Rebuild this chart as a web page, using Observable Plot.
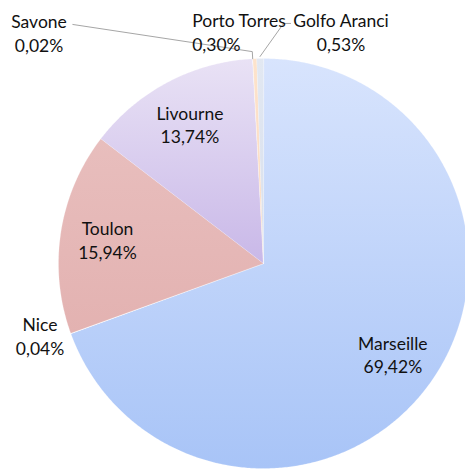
<!DOCTYPE html>
<html>
<head>
<meta charset="utf-8">
<script src="https://cdn.jsdelivr.net/npm/d3@7"></script>
<script src="https://cdn.jsdelivr.net/npm/@observablehq/plot@0.6"></script>
<style>
  html, body { margin: 0; padding: 0; background: #fff; }
  #chart { width: 465px; height: 471px; overflow: hidden; }
</style>
</head>
<body>
<div id="chart"></div>
<script>
// ---- data ----
const ports = ["Marseille", "Nice", "Toulon", "Livourne", "Savone", "Porto Torres", "Golfo Aranci"];
const shares = [69.42, 0.04, 15.94, 13.74, 0.02, 0.30, 0.53];
const colorsTop = ["#d8e4fd", "#ffffff", "#e8bebd", "#e9e2f5", "#ffffff", "#fde3cc", "#e2e8f2"];
const colorsBottom = ["#a8c4f7", "#ffffff", "#e3b2b1", "#c9b8e8", "#ffffff", "#fbd8bd", "#d8dfec"];

// ---- pie geometry (clockwise from 12 o'clock) ----
const arcs = d3.pie().sort(null).value(d => d)(shares);
const polar = (a, r) => ({x: r * Math.sin(a), y: r * Math.cos(a)});
function slicePoints(arc, i) {
  const pts = [{...polar(0, 0), port: ports[i]}];
  const n = Math.max(2, Math.ceil((arc.endAngle - arc.startAngle) / (Math.PI / 360)));
  for (let k = 0; k <= n; k++) {
    const a = arc.startAngle + (arc.endAngle - arc.startAngle) * k / n;
    pts.push({...polar(a, 1), port: ports[i]});
  }
  return pts;
}
const circle = d3.range(0, 721).map(k => polar(k * Math.PI / 360, 1));
const mid = arcs.map(a => (a.startAngle + a.endAngle) / 2);
const fmt = v => v.toFixed(2).replace(".", ",") + "%";

// label layout
const inside = new Set(["Marseille", "Toulon", "Livourne"]);
const callouts = {
  "Nice": {x: -1.09, y: -0.352, anchor: "middle"},
  "Savone": {x: -1.095, y: 1.127, anchor: "middle"},
  "Porto Torres": {x: -0.348, y: 1.132, anchor: "start"},
  "Golfo Aranci": {x: 0.378, y: 1.132, anchor: "middle"}
};
const labelData = ports.map((p, i) => {
  const pos = inside.has(p) ? {...polar(mid[i], 0.77), anchor: "middle"} : callouts[p];
  return {port: p, text: p + "\n" + fmt(shares[i]), ...pos};
});
const iSav = ports.indexOf("Savone"), iGolfo = ports.indexOf("Golfo Aranci");
const leaders = [
  [{x: -0.93, y: 1.166}, polar(mid[iSav], 1.035), polar(mid[iSav], 1.0)].map(d => ({...d, k: "s"})),
  [{x: 0.132, y: 1.171}, {x: 0.098, y: 1.171}, polar(mid[iGolfo], 1.01)].map(d => ({...d, k: "g"}))
];

const marks = [
  Plot.line(circle, {x: "x", y: "y", fill: "#ffffff", stroke: "none", curve: "linear-closed", ariaLabel: "pie-shadow"}),
  ...arcs.map((a, i) => Plot.line(slicePoints(a, i), {
    x: "x", y: "y", fill: `url(#grad${i})`, stroke: "#ffffff", strokeWidth: 0.3, strokeOpacity: 0.6, curve: "linear-closed"
  })),
  ...leaders.map(l => Plot.line(l, {x: "x", y: "y", stroke: "#a6a6a6", strokeWidth: 1})),
  ...["middle", "start"].map(anc => Plot.text(labelData.filter(d => d.anchor === anc), {
    x: "x", y: "y", text: "text", textAnchor: anc, lineHeight: 1.36, fill: "#111"
  }))
];

const svg = Plot.plot({
  width: 465,
  height: 471,
  x: {domain: [-1, 1], range: [58, 468], axis: null},
  y: {domain: [-1, 1], range: [468, 58], axis: null},
  style: {fontFamily: "Lato, 'Noto Sans', sans-serif", fontSize: "17.5px", background: "#fff", overflow: "visible"},
  marks
});

// gradients + shadow
const ns = "http://www.w3.org/2000/svg";
const defs = document.createElementNS(ns, "defs");
let html = `<filter id="pieShadow" x="-10%" y="-10%" width="125%" height="125%">
  <feDropShadow dx="2" dy="3" stdDeviation="2.5" flood-color="#000" flood-opacity="0.35"/></filter>`;
colorsTop.forEach((c, i) => {
  html += `<linearGradient id="grad${i}" x1="0" y1="0" x2="0" y2="1">
    <stop offset="0" stop-color="${c}"/><stop offset="1" stop-color="${colorsBottom[i]}"/></linearGradient>`;
});
defs.innerHTML = html;
svg.insertBefore(defs, svg.firstChild);
d3.select(svg).select('[aria-label="pie-shadow"]').attr("filter", "url(#pieShadow)");

document.getElementById("chart").appendChild(svg);
</script>
</body>
</html>
